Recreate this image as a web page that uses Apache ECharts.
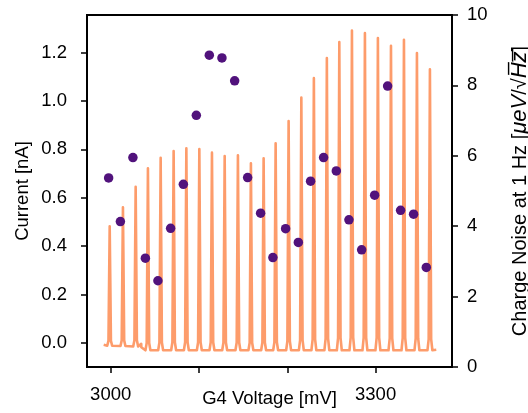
<!DOCTYPE html>
<html>
<head>
<meta charset="utf-8">
<script src="https://cdn.jsdelivr.net/npm/echarts@6/dist/echarts.min.js"></script>
<style>
  html, body { margin: 0; padding: 0; background: #fff; }
  #chart { width: 528px; height: 413px; }
</style>
</head>
<body>
<div id="chart"></div>
<script>
// current trace [G4 voltage mV, current nA], one row per Coulomb peak
var currentTrace = [
  [2992.1, -0.008],
  [2996.1, -0.012], [2997.5, 0.008], [2998.3, 0.284], [2998.9, 0.482], [2999.5, 0.284], [3000.3, 0.008], [3001.7, -0.012],
  [3011.1, -0.013], [3012.5, 0.010], [3013.3, 0.331], [3013.9, 0.560], [3014.5, 0.331], [3015.3, 0.010], [3016.7, -0.013],
  [3025.5, -0.015], [3026.9, 0.011], [3027.7, 0.381], [3028.3, 0.645], [3028.9, 0.381], [3029.7, 0.011], [3031.1, -0.015],
  [3034.6, -0.004], [3034.7, -0.018],
  [3039.4, -0.031], [3040.8, -0.001], [3041.6, 0.420], [3042.2, 0.721], [3042.8, 0.420], [3043.6, -0.001], [3045.0, -0.031],
  [3053.8, -0.031], [3055.2, 0.001], [3056.0, 0.447], [3056.6, 0.765], [3057.2, 0.447], [3058.0, 0.001], [3059.4, -0.031],
  [3068.5, -0.031], [3069.9, 0.002], [3070.7, 0.463], [3071.3, 0.793], [3071.9, 0.463], [3072.7, 0.002], [3074.1, -0.031],
  [3082.9, -0.031], [3084.3, 0.002], [3085.1, 0.470], [3085.7, 0.804], [3086.3, 0.470], [3087.1, 0.002], [3088.5, -0.031],
  [3097.6, -0.031], [3099.0, 0.002], [3099.8, 0.468], [3100.4, 0.801], [3101.0, 0.468], [3101.8, 0.002], [3103.2, -0.031],
  [3111.9, -0.031], [3113.3, 0.002], [3114.1, 0.459], [3114.7, 0.786], [3115.3, 0.459], [3116.1, 0.002], [3117.5, -0.031],
  [3126.3, -0.031], [3127.7, 0.001], [3128.5, 0.451], [3129.1, 0.772], [3129.7, 0.451], [3130.5, 0.001], [3131.9, -0.031],
  [3141.3, -0.031], [3142.7, 0.001], [3143.5, 0.453], [3144.1, 0.775], [3144.7, 0.453], [3145.5, 0.001], [3146.9, -0.031],
  [3156.0, -0.031], [3157.4, 0.000], [3158.2, 0.433], [3158.8, 0.742], [3159.4, 0.433], [3160.2, 0.000], [3161.6, -0.031],
  [3170.4, -0.031], [3171.8, 0.001], [3172.6, 0.445], [3173.2, 0.763], [3173.8, 0.445], [3174.6, 0.001], [3176.0, -0.031],
  [3184.0, -0.031], [3185.4, 0.003], [3186.2, 0.483], [3186.8, 0.825], [3187.4, 0.483], [3188.2, 0.003], [3189.6, -0.031],
  [3198.7, -0.031], [3200.1, 0.007], [3200.9, 0.538], [3201.5, 0.917], [3202.1, 0.538], [3202.9, 0.007], [3204.3, -0.031],
  [3213.1, -0.031], [3214.5, 0.011], [3215.3, 0.596], [3215.9, 1.014], [3216.5, 0.596], [3217.3, 0.011], [3218.7, -0.031],
  [3227.3, -0.031], [3228.7, 0.014], [3229.5, 0.644], [3230.1, 1.094], [3230.7, 0.644], [3231.5, 0.014], [3232.9, -0.031],
  [3242.0, -0.031], [3243.4, 0.017], [3244.2, 0.694], [3244.8, 1.177], [3245.4, 0.694], [3246.2, 0.017], [3247.6, -0.031],
  [3256.1, -0.031], [3257.5, 0.020], [3258.3, 0.733], [3258.9, 1.243], [3259.5, 0.733], [3260.3, 0.020], [3261.7, -0.031],
  [3270.4, -0.031], [3271.8, 0.022], [3272.6, 0.762], [3273.2, 1.291], [3273.8, 0.762], [3274.6, 0.022], [3276.0, -0.031],
  [3285.1, -0.031], [3286.5, 0.021], [3287.3, 0.756], [3287.9, 1.280], [3288.5, 0.756], [3289.3, 0.021], [3290.7, -0.031],
  [3299.8, -0.031], [3301.2, 0.021], [3302.0, 0.744], [3302.6, 1.260], [3303.2, 0.744], [3304.0, 0.021], [3305.4, -0.031],
  [3314.6, -0.031], [3316.0, 0.019], [3316.8, 0.724], [3317.4, 1.228], [3318.0, 0.724], [3318.8, 0.019], [3320.2, -0.031],
  [3329.3, -0.031], [3330.7, 0.020], [3331.5, 0.739], [3332.1, 1.253], [3332.7, 0.739], [3333.5, 0.020], [3334.9, -0.031],
  [3344.0, -0.031], [3345.4, 0.018], [3346.2, 0.706], [3346.8, 1.198], [3347.4, 0.706], [3348.2, 0.018], [3349.6, -0.031],
  [3358.7, -0.031], [3360.1, 0.015], [3360.9, 0.666], [3361.5, 1.131], [3362.1, 0.666], [3362.9, 0.015], [3364.3, -0.031],
  [3368.7, -0.029]
]

// charge noise at 1 Hz, one point per peak
var noiseVoltage = [2997.7, 3011.0, 3025.2, 3039.3, 3053.5, 3067.9, 3082.3, 3097.0, 3111.7, 3126.0, 3140.4, 3155.1, 3169.8,
  3183.7, 3198.1, 3212.5, 3226.4, 3241.1, 3255.5, 3269.8, 3284.2, 3298.9, 3313.6, 3328.3, 3343.0, 3357.4]
var noiseValue = [5.37, 4.13, 5.95, 3.09, 2.45, 3.94, 5.19, 7.15, 8.86, 8.78, 8.13, 5.38, 4.37,
  3.11, 3.93, 3.54, 5.28, 5.95, 5.57, 4.18, 3.33, 4.88, 7.98, 4.45, 4.34, 2.83]

var xTicks = [3000, 3100, 3200, 3300]
var xTickLabels = [3000, 3300]
var currentTicks = [0, 0.2, 0.4, 0.6, 0.8, 1.0, 1.2]

var font = 'Liberation Sans, Arial, sans-serif'
var fontSize = 18.5
var chart = echarts.init(document.getElementById('chart'))

var tickStyle = { show: true, inside: false, length: 6, lineStyle: { color: '#000', width: 1.5 } }
var labelStyle = { color: '#000', fontSize: fontSize, fontFamily: font }

chart.setOption({
  animation: false,
  grid: {
    left: 87, right: 76, top: 15, bottom: 46,
    outerBoundsMode: 'none', containLabel: false,
    show: true, borderColor: '#000', borderWidth: 2, backgroundColor: 'transparent'
  },
  xAxis: {
    type: 'value', min: 2973.2, max: 3386.5,
    name: 'G4 Voltage [mV]', nameLocation: 'middle', nameGap: 22, nameMoveOverlap: false,
    nameTextStyle: labelStyle,
    axisLine: { show: false, onZero: false },
    axisTick: Object.assign({ customValues: xTicks }, tickStyle),
    axisLabel: Object.assign({ customValues: xTickLabels, margin: 18, formatter: function (v) { return String(v) } }, labelStyle),
    splitLine: { show: false }
  },
  yAxis: [{
    type: 'value', min: -0.1, max: 1.355, position: 'left',
    name: 'Current [nA]', nameLocation: 'middle', nameGap: 55, nameRotate: 90, nameMoveOverlap: false,
    nameTextStyle: labelStyle,
    axisLine: { show: false, onZero: false },
    axisTick: Object.assign({ customValues: currentTicks }, tickStyle),
    axisLabel: Object.assign({ customValues: currentTicks, margin: 20, formatter: function (v) { return v.toFixed(1) } }, labelStyle),
    splitLine: { show: false }
  }, {
    type: 'value', min: 0, max: 10, interval: 2, position: 'right',
    name: 'Charge Noise at 1 Hz [{i|μeV}/√{i|H̅z̅}]', nameLocation: 'middle', nameGap: 57, nameRotate: 90, nameMoveOverlap: false,
    nameTextStyle: {
      color: '#000', fontSize: 20, fontFamily: font,
      rich: { i: { fontStyle: 'italic', fontSize: 22, fontFamily: font, color: '#000' } }
    },
    axisLine: { show: false, onZero: false },
    axisTick: tickStyle,
    axisLabel: Object.assign({ margin: 15 }, labelStyle),
    splitLine: { show: false }
  }],
  series: [{
    type: 'line',
    yAxisIndex: 0,
    data: currentTrace,
    showSymbol: false,
    lineStyle: { color: '#fd9c6b', width: 2.6, join: 'round' },
    z: 2
  }, {
    type: 'scatter',
    yAxisIndex: 1,
    data: noiseVoltage.map(function (v, i) { return [v, noiseValue[i]] }),
    symbolSize: 9.5,
    itemStyle: { color: '#51127c', opacity: 1 },
    z: 3
  }]
})
</script>
</body>
</html>
